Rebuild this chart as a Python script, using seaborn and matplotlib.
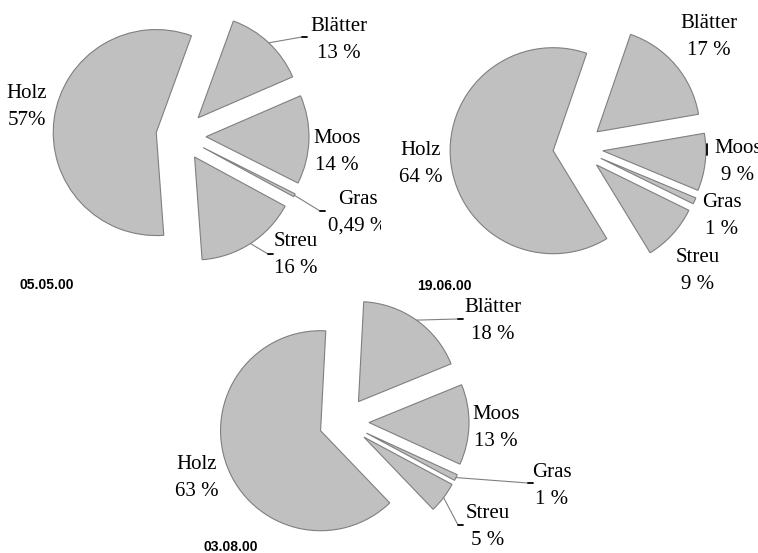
import numpy as np
import matplotlib
matplotlib.use('Agg')
import matplotlib.pyplot as plt
import seaborn as sns
from matplotlib.transforms import Bbox, TransformedBbox

### ------------------- Daten ----------------------
teile = ['Blätter', 'Moos', 'Gras', 'Streu', 'Holz']
anteil_050500 = [13, 14, 0.49, 16, 57]
anteil_190600 = [17, 9, 1, 9, 64]
anteil_030800 = [18, 13, 1, 5, 63]
text_050500 = ['13 %', '14 %', '0,49 %', '16 %', '57%']
text_190600 = ['17 %', '9 %', '1 %', '9 %', '64 %']
text_030800 = ['18 %', '13 %', '1 %', '5 %', '63 %']
daten = ['05.05.00', '19.06.00', '03.08.00']

### ------------------- Layout (Pixel, y nach unten) ----------------------
W, H = 758, 553
pies = [
    dict(werte=anteil_050500, texte=text_050500, datum=daten[0],
         center=(181, 136), r=103, start=20, datum_pos=(20, 285),
         label_pos=[(339, 40), (337, 152), (358, 213), (296, 255), (27, 107)],
         leader={0: (302, 37), 2: (320, 211), 3: (268, 254)}),
    dict(werte=anteil_190600, texte=text_190600, datum=daten[1],
         center=(578, 148), r=103, start=19, datum_pos=(417, 286),
         label_pos=[(709, 37), (738, 162), (722, 216), (698, 271), (421, 164)],
         leader={}),
    dict(werte=anteil_030800, texte=text_030800, datum=daten[2],
         center=(344, 422), r=100, start=3, datum_pos=(203, 547),
         label_pos=[(493, 321), (496, 428), (552, 486), (488, 527), (197, 478)],
         leader={0: (458, 319), 2: (528, 483), 3: (458, 525)}),
]

sns.set_theme(style='white')
plt.rcParams['font.family'] = ['Liberation Serif', 'DejaVu Serif']

fig = plt.figure(figsize=(W / 100, H / 100), dpi=100)
ax = fig.add_axes([0, 0, 1, 1])

for p in pies:
    cx, cy = p['center']
    wedges, _ = ax.pie(p['werte'], center=(cx, H - cy), radius=p['r'],
                       explode=[25] * len(p['werte']),
                       startangle=90 - p['start'], counterclock=False,
                       wedgeprops=dict(facecolor='#c0c0c0', edgecolor='#7f7f7f', linewidth=0.8))

    # Beschriftungen
    for i, (teil, txt) in enumerate(zip(teile, p['texte'])):
        lx, ly = p['label_pos'][i]
        t = ax.text(lx, H - ly, teil + '\n' + txt, ha='center', va='center',
                    fontsize=15, linespacing=1.55, color='black')
        if txt == '0,49 %':
            t.set_clip_box(TransformedBbox(Bbox([[0, 0], [381, H]]), ax.transData))
            t.set_clip_on(True)

    # Hinweislinien
    for i, (ex, ey) in p['leader'].items():
        w = wedges[i]
        tm = np.deg2rad((w.theta1 + w.theta2) / 2)
        ax_, ay_ = w.center[0] + w.r * np.cos(tm), w.center[1] + w.r * np.sin(tm)
        ax.plot([ax_, ex], [ay_, H - ey], color='#808080', lw=0.8)
        ax.plot([ex, ex + 5], [H - ey, H - ey], color='black', lw=1.3)

    dx, dy = p['datum_pos']
    ax.text(dx, H - dy, p['datum'], ha='left', va='center', fontsize=10,
            fontweight='bold', color='black', family=['Liberation Sans', 'DejaVu Sans'])

# kleiner Strich bei Moos (19.06.00)
ax.plot([707, 707], [H - 144, H - 155], color='black', lw=1.3)

ax.set_xlim(0, W)
ax.set_ylim(0, H)
ax.set_aspect('equal')
ax.axis('off')

plt.savefig('out.png', dpi=100)
